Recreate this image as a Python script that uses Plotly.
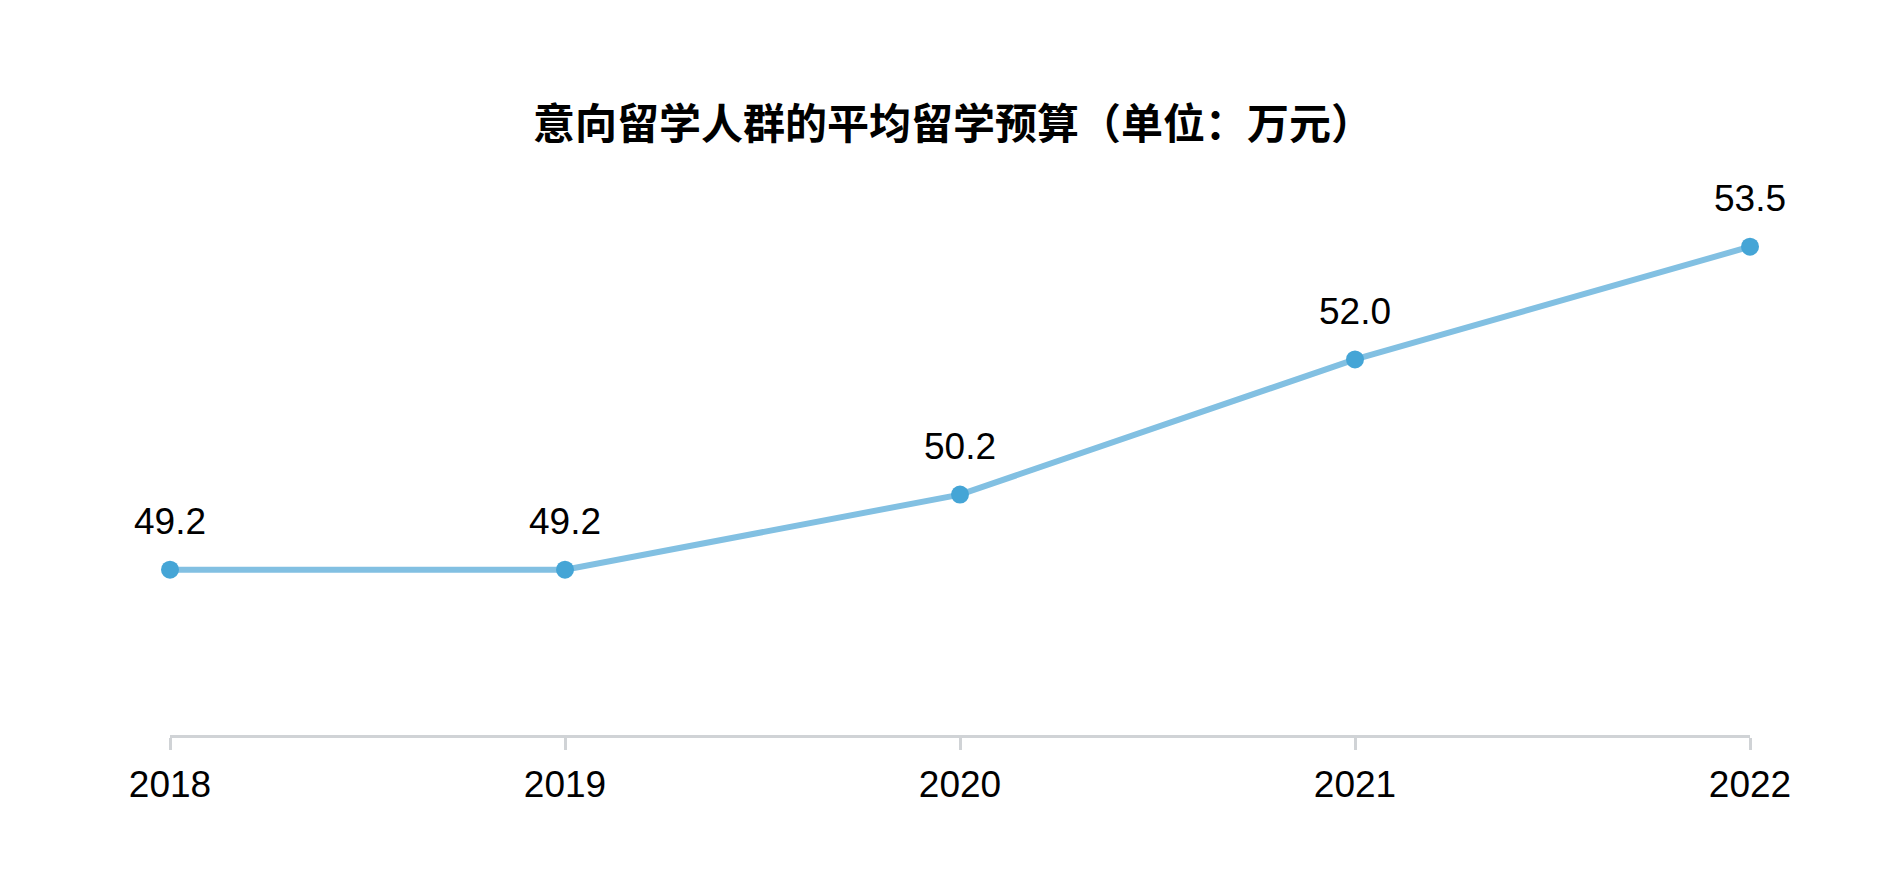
import plotly.graph_objects as go

years = ["2018", "2019", "2020", "2021", "2022"]
budget = [49.2, 49.2, 50.2, 52.0, 53.5]
labels = ["49.2", "49.2", "50.2", "52.0", "53.5"]
title_text = "意向留学人群的平均留学预算（单位：万元）"

x_vals = [int(y) for y in years]

fig = go.Figure()
fig.add_trace(go.Scatter(
    x=x_vals, y=budget, mode="lines",
    line=dict(color="#82c0e2", width=6),
    hoverinfo="skip", showlegend=False, cliponaxis=False,
))
fig.add_trace(go.Scatter(
    x=x_vals, y=budget, mode="markers",
    marker=dict(color="#45a5d6", size=18),
    showlegend=False, cliponaxis=False,
))

for xv, yv, lab in zip(x_vals, budget, labels):
    fig.add_annotation(
        x=xv, y=yv, text=lab, showarrow=False,
        yshift=48, yanchor="middle",
        font=dict(family="Liberation Sans, Arial", size=37, color="#000000"),
    )

fig.update_layout(
    width=1890, height=885,
    margin=dict(l=162, r=148, t=126, b=158),
    paper_bgcolor="#ffffff", plot_bgcolor="#ffffff",
    title=dict(
        text=title_text, x=0.5, xanchor="center", y=1 - 116 / 885, yanchor="middle",
        font=dict(family="Noto Sans CJK SC", size=42, color="#000000", weight="bold"),
    ),
    xaxis=dict(
        range=[2018, 2022], tickmode="array", tickvals=x_vals, ticktext=years,
        showgrid=False, zeroline=False, showline=True, linecolor="#d0d3d6", linewidth=3,
        ticks="outside", ticklen=12, tickwidth=3, tickcolor="#d0d3d6",
        ticklabelstandoff=3,
        tickfont=dict(family="Liberation Sans, Arial", size=37, color="#000000"),
        fixedrange=True,
    ),
    yaxis=dict(
        range=[47, 55], visible=False, showgrid=False, zeroline=False, fixedrange=True,
    ),
)

fig.write_html("out.html")
